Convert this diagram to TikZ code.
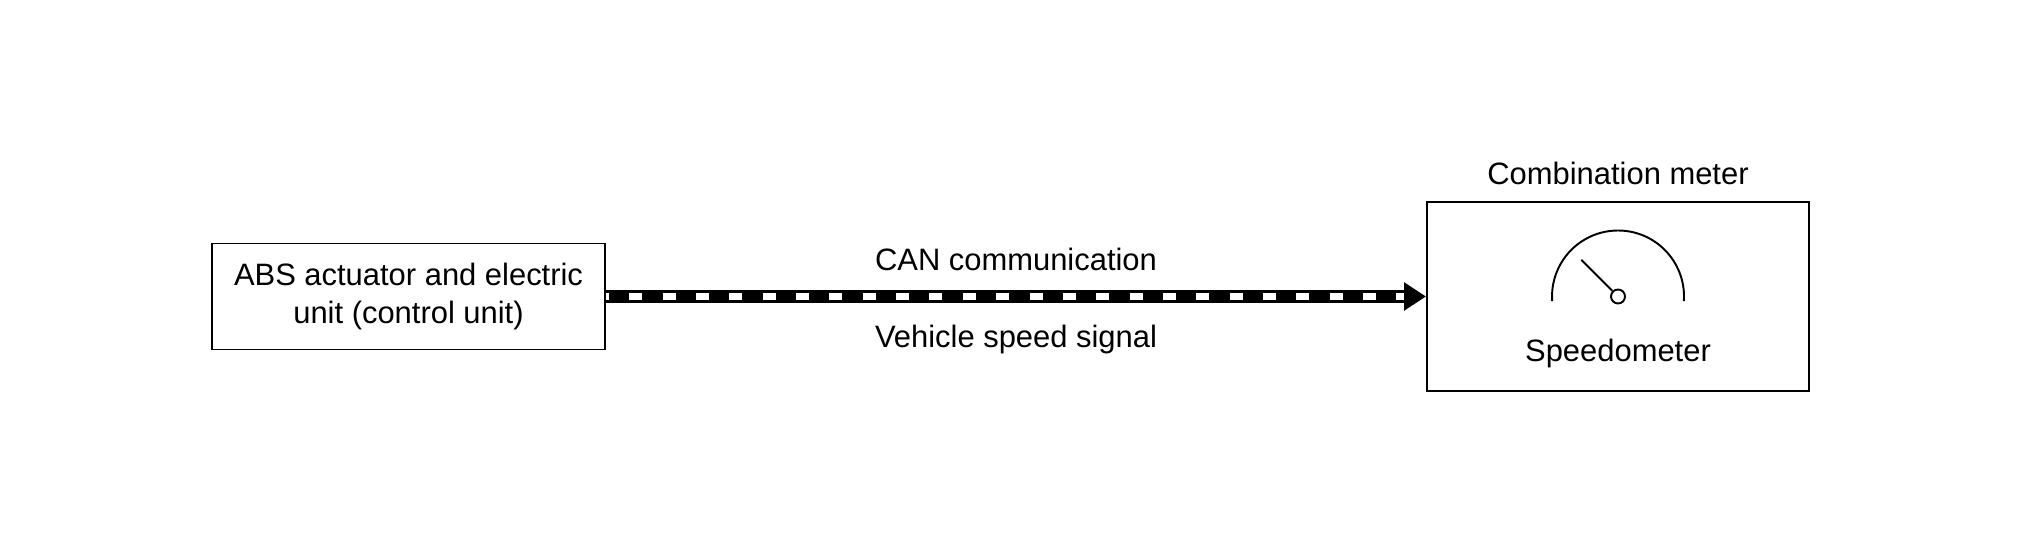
\documentclass[tikz,border=0pt]{standalone}
\usepackage{fontspec}
\setmainfont{Liberation Sans}
\usetikzlibrary{arrows.meta}
\begin{document}
\begin{tikzpicture}[
		unit/.style={draw, line width=1.1pt, align=center, inner sep=0pt},
		every node/.append style={font=\fontsize{17.6pt}{21.6pt}\selectfont}
	]
		\useasboundingbox (0,0) rectangle (40.4,10.88);
		\node[unit, minimum width=7.86cm, minimum height=2.12cm] (abs) at (8.17,4.95) {ABS actuator and electric\\unit (control unit)};
		\node[unit, minimum width=7.64cm, minimum height=3.78cm] (meter) at (32.36,4.95) {};
		\node[anchor=base] (title) at ([yshift=0.34cm]meter.north) {Combination meter};
		\node[anchor=base] (speedo) at ([yshift=-1.31cm]meter.center) {Speedometer};
		\node[circle, draw, line width=1.1pt, minimum size=0.28cm, inner sep=0pt] (pivot) at (meter.center) {};
		\draw[line width=1.1pt] (pivot.center) ++(-4:1.32) arc (-4:184:1.32) (pivot.135) -- ++(135:0.88);
		\coordinate (head) at ([xshift=-0.44cm]meter.west);
		\draw[line width=0.26cm, -{Triangle[length=0.44cm, width=0.54cm]}] (abs.east) -- (meter.west) node[midway, anchor=base, yshift=0.51cm] (can) {CAN communication} node[midway, anchor=base, yshift=-1.03cm] (vss) {Vehicle speed signal};
		\draw[white, line width=0.15cm, dash pattern=on 0.26cm off 0.407cm, dash phase=0.2cm] (abs.east) -- (head);
	\end{tikzpicture}
\end{document}
